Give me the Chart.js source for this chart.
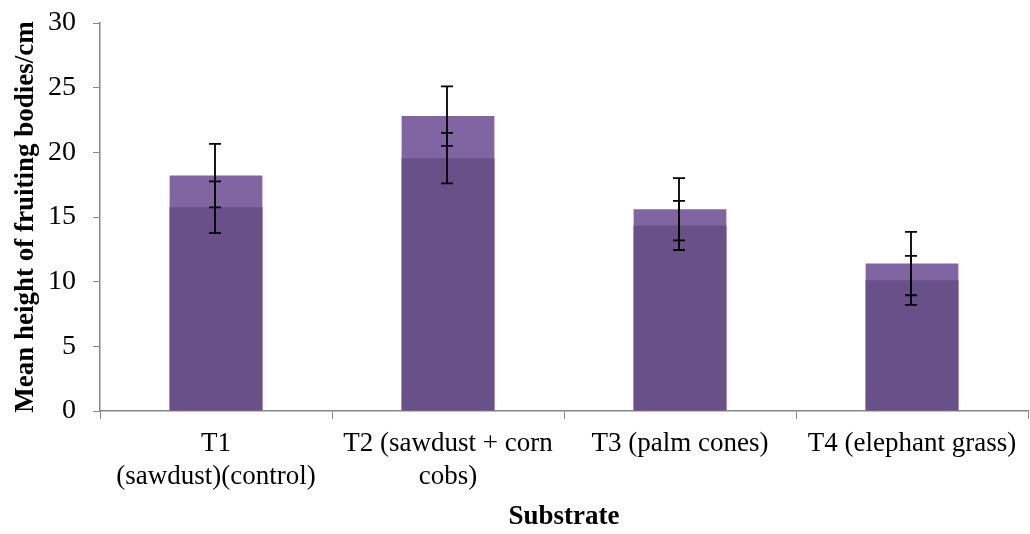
<!DOCTYPE html>
<html>
<head>
<meta charset="utf-8">
<script src="https://cdn.jsdelivr.net/npm/chart.js@4/dist/chart.umd.min.js"></script>
<style>
  html, body { margin: 0; padding: 0; background: #fff; }
  #wrap { width: 1030px; height: 534px; }
</style>
</head>
<body>
<div id="wrap"><canvas id="chart"></canvas></div>
<script>
// data
const categories = [
  ['T1', '(sawdust)(control)'],
  ['T2 (sawdust + corn', 'cobs)'],
  'T3 (palm cones)',
  'T4 (elephant grass)'
];
const seriesLight = [18.2, 22.8, 15.6, 11.4];
const errLight = [2.45, 2.3, 2.4, 2.45];
const seriesDark = [15.75, 19.55, 14.35, 10.1];
const errDark = [2.0, 1.95, 1.9, 1.9];
const yTicks = [0, 5, 10, 15, 20, 25, 30];

const axisGrey = '#868686';
const serif = "'Liberation Serif', 'Times New Roman', serif";

// error bars drawn through the chart scales
const errorBars = {
  id: 'errorBars',
  afterDatasetsDraw(chart) {
    const ctx = chart.ctx;
    const y = chart.scales.y;
    ctx.save();
    ctx.strokeStyle = '#000';
    ctx.lineWidth = 1.8;
    chart.data.datasets.forEach((ds, i) => {
      const meta = chart.getDatasetMeta(i);
      meta.data.forEach((bar, j) => {
        const v = ds.data[j];
        const e = ds.errors[j];
        const top = y.getPixelForValue(v + e);
        const bot = y.getPixelForValue(v - e);
        const x = Math.round(bar.x) - 1;
        ctx.beginPath();
        ctx.moveTo(x, top);
        ctx.lineTo(x, bot);
        ctx.moveTo(x - 6, top);
        ctx.lineTo(x + 6, top);
        ctx.moveTo(x - 6, bot);
        ctx.lineTo(x + 6, bot);
        ctx.stroke();
      });
    });
    ctx.restore();
  }
};

new Chart(document.getElementById('chart'), {
  type: 'bar',
  data: {
    labels: categories,
    datasets: [
      {
        label: 'dark',
        data: seriesDark,
        errors: errDark,
        backgroundColor: '#6a5089',
        order: 0
      },
      {
        label: 'light',
        data: seriesLight,
        errors: errLight,
        backgroundColor: '#8165a2',
        order: 1
      }
    ]
  },
  options: {
    responsive: true,
    maintainAspectRatio: false,
    animation: false,
    grouped: false,
    categoryPercentage: 1,
    barPercentage: 0.4,
    layout: { padding: { top: 23, right: 2, left: 0, bottom: 0 } },
    plugins: {
      legend: { display: false },
      tooltip: { enabled: false }
    },
    scales: {
      x: {
        offset: true,
        grid: {
          offset: true,
          drawOnChartArea: false,
          drawTicks: true,
          tickLength: 8,
          color: axisGrey
        },
        border: { color: axisGrey, width: 1.5 },
        ticks: {
          color: '#000',
          font: { family: serif, size: 27, lineHeight: 1.2 },
          padding: 9,
          maxRotation: 0,
          autoSkip: false
        },
        title: {
          display: true,
          text: 'Substrate',
          color: '#000',
          font: { family: serif, size: 27, weight: 'bold', lineHeight: 1.2 },
          padding: { top: 4, bottom: 1 }
        },
        afterFit(scale) {
          scale.height = 123;
          scale.paddingLeft = 0;
          scale.paddingRight = 0;
        }
      },
      y: {
        min: 0,
        max: 30,
        afterBuildTicks(scale) { scale.ticks = yTicks.map(v => ({ value: v })); },
        grid: {
          drawOnChartArea: false,
          drawTicks: true,
          tickLength: 7,
          color: axisGrey
        },
        border: { color: axisGrey, width: 1.5 },
        ticks: {
          color: '#000',
          font: { family: serif, size: 28 },
          padding: 17
        },
        title: {
          display: true,
          text: 'Mean height of fruiting bodies/cm',
          color: '#000',
          font: { family: serif, size: 27, weight: 'bold', lineHeight: 1.2 },
          padding: { top: 10, bottom: 4 }
        },
        afterFit(scale) {
          scale.width = 100;
          scale.paddingTop = 0;
          scale.paddingBottom = 0;
        }
      }
    }
  },
  plugins: [errorBars]
});
</script>
</body>
</html>
